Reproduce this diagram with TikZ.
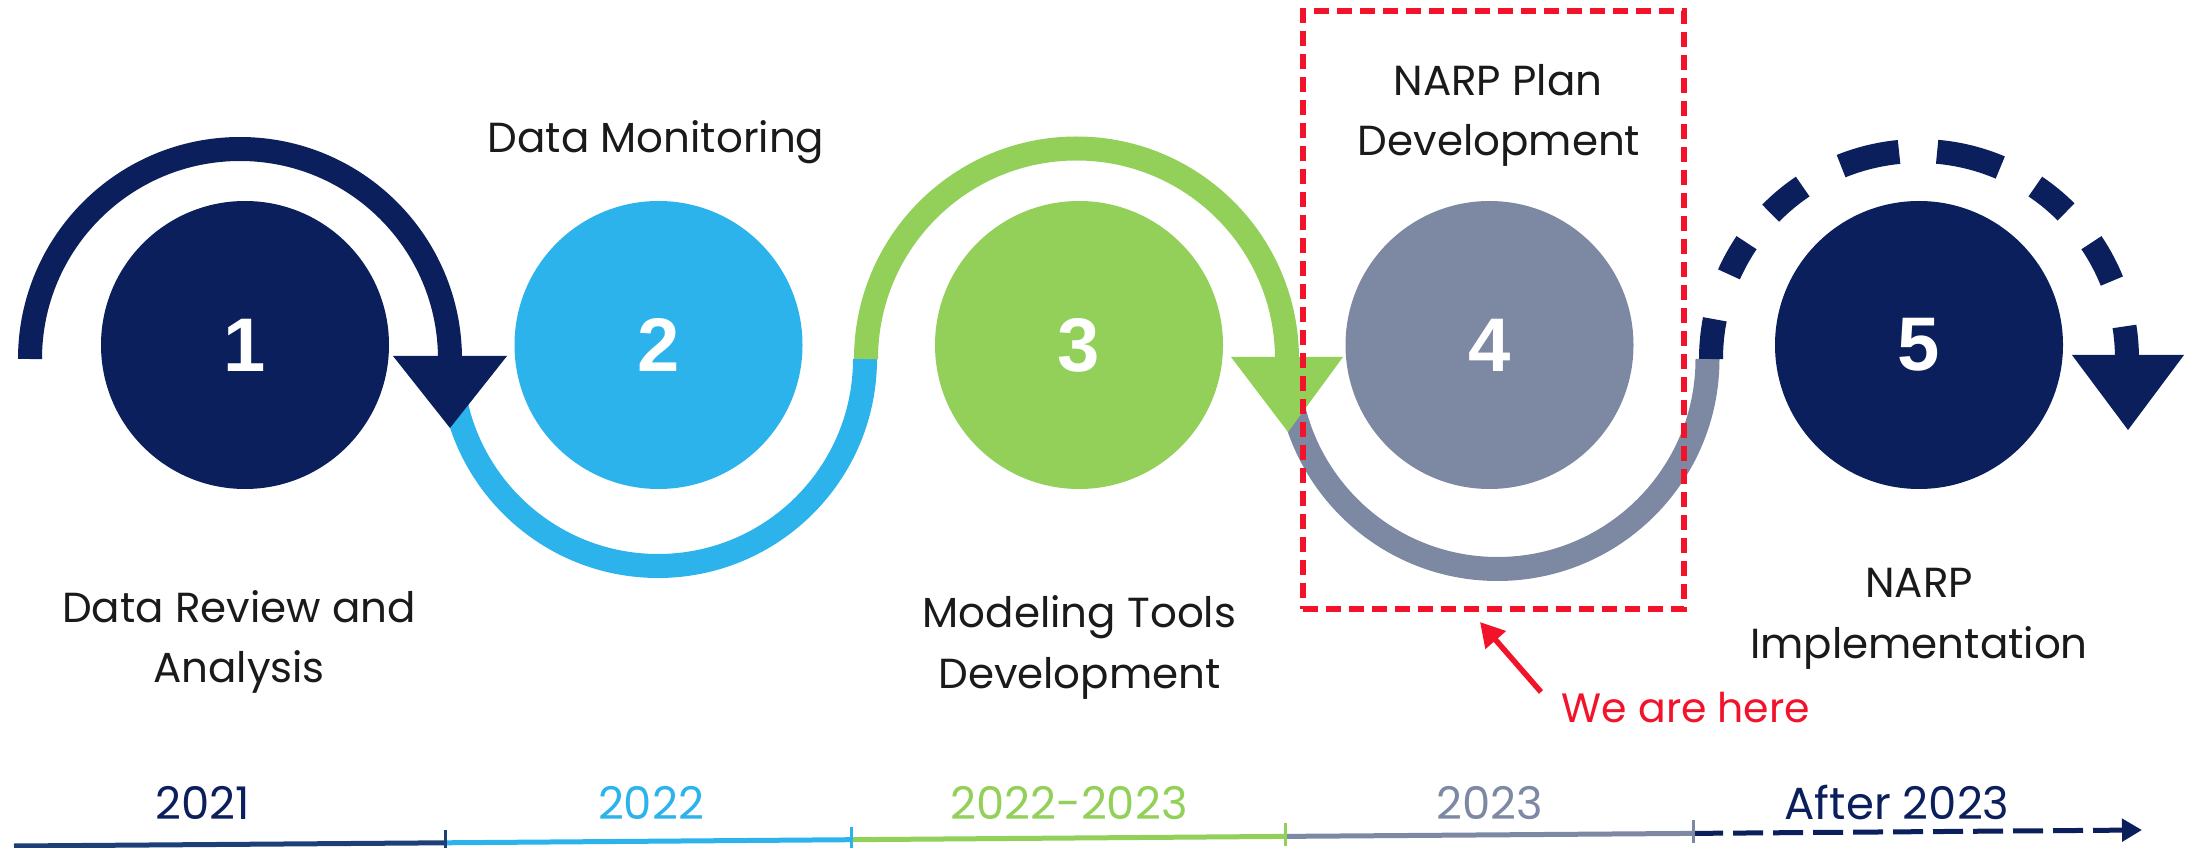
\documentclass[tikz,border=0pt]{standalone}
\usepackage{fontspec}
\setmainfont{Poppins}
\newfontfamily\numfont{Liberation Sans}
\usetikzlibrary{calc,arrows.meta}

\definecolor{navy}{HTML}{0A1F5C}
\definecolor{sky}{HTML}{2DB3EB}
\definecolor{leaf}{HTML}{92D05A}
\definecolor{slate}{HTML}{7D89A3}
\definecolor{lineblue}{HTML}{1D3F78}
\definecolor{alert}{HTML}{F2132B}
\definecolor{ink}{HTML}{1A1A1A}

\tikzset{
  band/.style={line width=24pt, line cap=butt},
  stage/.style={circle, minimum size=288pt, inner sep=0pt, text=white,
    font=\numfont\bfseries\fontsize{76}{76}\selectfont},
  steptext/.style={anchor=base, inner sep=0pt, text=ink,
    font=\fontsize{42}{50}\selectfont},
  yeartext/.style={anchor=base, inner sep=0pt,
    font=\fontsize{45}{50}\selectfont},
  tline/.style={line width=5pt, line cap=butt},
  tick/.style={line width=3pt},
}

\begin{document}
\begin{tikzpicture}[x=1pt,y=1pt]
\useasboundingbox (0,0) rectangle (2196,847);

% ---- connecting bands between the stages ----
% stage 2: lower half loop
\draw[band,sky] (451,488) arc[start angle=180, end angle=360, radius=207];
% stage 1: upper loop with arrow
\draw[band,navy] (30,488) arc[start angle=180, end angle=0, radius=210];
\fill[navy] (393,491) -- (507,491) -- (450,419) -- cycle;

% stage 4: lower half loop
\draw[band,slate] (1287.5,488) arc[start angle=180, end angle=360, radius=210];
% stage 3: upper loop with arrow
\draw[band,leaf] (866,488) arc[start angle=180, end angle=0, radius=210.5];
\fill[leaf] (1231,490) -- (1343,490) -- (1288,415) -- cycle;

% stage 5: dashed upper loop with arrow
\foreach \a/\b in {180/169,156/146,135.5/124,112/95.5,85/67,56/45,34/22,9/0}
  \draw[band,navy] ($(1919,488)+(\a:208)$) arc[start angle=\a, end angle=\b, radius=208];
\fill[navy] (2072,492) -- (2184,492) -- (2128,417) -- cycle;

% ---- numbered stages ----
\node[stage, fill=navy]  (s1) at (245,502)   {1};
\node[stage, fill=sky]   (s2) at (658.5,502) {2};
\node[stage, fill=leaf]  (s3) at (1079,502)  {3};
\node[stage, fill=slate] (s4) at (1489.5,502){4};
\node[stage, fill=navy]  (s5) at (1919,502)  {5};

% ---- stage captions ----
\node[steptext] (d1a) at (239,225)  {Data Review and};
\node[steptext] (d1b) at (239,165)  {Analysis};
\node[steptext] (d2a) at (656,694)  {Data Monitoring};
\node[steptext] (d3a) at (1079.5,219) {Modeling Tools};
\node[steptext] (d3b) at (1079.5,159) {Development};
\node[steptext] (d4a) at (1498,751) {NARP Plan};
\node[steptext] (d4b) at (1499,691) {Development};
\node[steptext] (d5a) at (1919,249) {NARP};
\node[steptext] (d5b) at (1919,189) {Implementation};

% ---- current stage marker ----
\node[draw=alert, line width=5.5pt, dash pattern=on 15pt off 8pt,
      minimum width=381pt, minimum height=598pt, inner sep=0pt] (now) at (1493.5,537) {};
\node[anchor=base, inner sep=0pt, text=alert, font=\fontsize{41}{46}\selectfont]
      (here) at (1686,125) {We are here};
\coordinate (ptr0) at (1541,155);
\coordinate (ptr1) at (1480,225);
\draw[alert, line width=5.5pt, -{Triangle[length=24pt,width=26pt]}] (ptr0) -- (ptr1);

% ---- time line ----
\coordinate (t0) at (14,1);
\coordinate (t1) at (445,4.2);
\coordinate (t2) at (851,7.3);
\coordinate (t3) at (1285,10.6);
\coordinate (t4) at (1693,13.6);
\coordinate (t5) at (2142,17);
\draw[tline, lineblue] (t0) -- (t1);
\draw[tline, sky]      (t1) -- (t2);
\draw[tline, leaf]     (t2) -- (t3);
\draw[tline, slate]    (t3) -- (t4);
\draw[tline, navy, dash pattern=on 30pt off 10pt, -{Triangle[length=20pt,width=22pt]}] (t4) -- (t5);
\draw[tick, lineblue] ($(t1)+(0,-10)$) -- ($(t1)+(0,13)$);
\draw[tick, sky]      ($(t2)+(0,-10)$) -- ($(t2)+(0,13)$);
\draw[tick, leaf]     ($(t3)+(0,-10)$) -- ($(t3)+(0,13)$);
\draw[tick, slate]    ($(t4)+(0,-10)$) -- ($(t4)+(0,13)$);

\node[yeartext, text=navy]  (y1) at (203,28)  {2021};
\node[yeartext, text=sky]   (y2) at (651,28)  {2022};
\node[yeartext, text=leaf]  (y3) at (1069,28) {2022-2023};
\node[yeartext, text=slate] (y4) at (1490,28) {2023};
\node[yeartext, text=navy]  (y5) at (1897,28) {After 2023};
\end{tikzpicture}
\end{document}
